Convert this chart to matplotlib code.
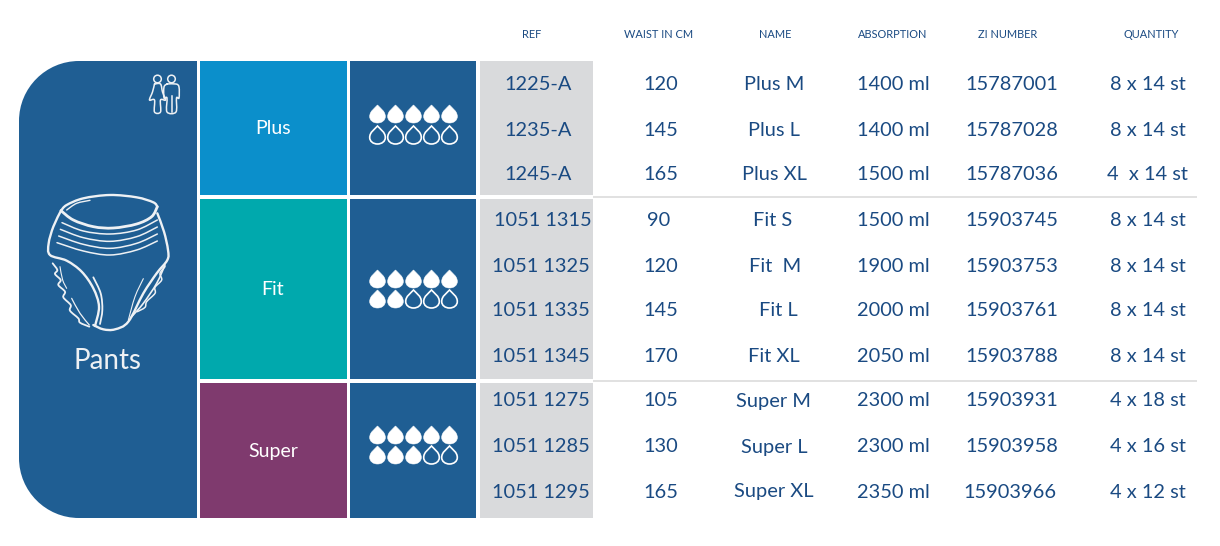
import numpy as np
import matplotlib
matplotlib.use("Agg")
import matplotlib.pyplot as plt
from matplotlib.path import Path
from matplotlib.patches import PathPatch, Rectangle, Circle

# ---- data ----
headers = ["REF", "WAIST IN CM", "NAME", "ABSORPTION", "ZI NUMBER", "QUANTITY"]
refs = ["1225-A", "1235-A", "1245-A", "1051 1315", "1051 1325", "1051 1335", "1051 1345",
        "1051 1275", "1051 1285", "1051 1295"]
waists = ["120", "145", "165", "90", "120", "145", "170", "105", "130", "165"]
names = ["Plus M", "Plus L", "Plus XL", "Fit S", "Fit  M", "Fit L", "Fit XL",
         "Super M", "Super L", "Super XL"]
absorption = ["1400 ml", "1400 ml", "1500 ml", "1500 ml", "1900 ml", "2000 ml", "2050 ml",
              "2300 ml", "2300 ml", "2350 ml"]
zi_numbers = ["15787001", "15787028", "15787036", "15903745", "15903753", "15903761",
              "15903788", "15903931", "15903958", "15903966"]
quantity = ["8 x 14 st", "8 x 14 st", "4  x 14 st", "8 x 14 st", "8 x 14 st", "8 x 14 st",
            "8 x 14 st", "4 x 18 st", "4 x 16 st", "4 x 12 st"]
groups = ["Plus", "Fit", "Super"]
filled_drops = [5, 7, 8]
product = "Pants"

# ---- layout ----
FONT = "Lato"
INK = "#1a4a82"
BLUE = "#1f5e93"
GREY = "#d9dadc"
group_colors = ["#0b8fcb", "#00a9ad", "#7f3a6e"]
group_spans = [(61, 195), (199, 379), (383, 518)]
drop_rows = [(105, 126), (270, 290), (426, 446)]
row_y = [85, 130, 175, 220, 266, 311, 356, 401, 447, 492]
header_x = [532, 659, 775, 893, 1008, 1151]
col_x = [
    [538, 538, 538, 543, 541, 541, 541, 541, 541, 541],
    [661, 661, 661, 659, 661, 661, 661, 661, 661, 661],
    [774, 774, 774, 773, 775, 778, 774, 774, 774, 774],
    [893, 893, 893, 893, 893, 893, 893, 893, 893, 893],
    [1012, 1012, 1012, 1012, 1012, 1012, 1012, 1012, 1012, 1010],
    [1148, 1148, 1147, 1148, 1148, 1148, 1148, 1148, 1148, 1148],
]

fig = plt.figure(figsize=(12.2, 5.46), dpi=100, facecolor="white")
ax = fig.add_axes([0, 0, 1, 1])
ax.set_xlim(0, 1220)
ax.set_ylim(546, 0)
ax.axis("off")


def rect(x0, y0, x1, y1, color, z=1):
    ax.add_patch(Rectangle((x0, y0), x1 - x0, y1 - y0, facecolor=color, edgecolor="none", zorder=z))


def smooth(points):
    """Catmull-Rom through the given pixel points, as a bezier path."""
    p = np.array(points, float)
    q = np.vstack([p[0], p, p[-1]])
    verts = [tuple(p[0])]
    codes = [Path.MOVETO]
    for i in range(1, len(q) - 2):
        c1 = q[i] + (q[i + 1] - q[i - 1]) / 6
        c2 = q[i + 1] - (q[i + 2] - q[i]) / 6
        verts += [tuple(c1), tuple(c2), tuple(q[i + 1])]
        codes += [Path.CURVE4] * 3
    return Path(verts, codes)


def stroke(points, lw=1.3, color="#eef1f4", zoomed=True):
    pts = [(x / 3, y / 3 + 50) for x, y in points] if zoomed else points
    ax.add_patch(PathPatch(smooth(pts), facecolor="none", edgecolor=color, lw=lw,
                           capstyle="round", joinstyle="round", zorder=4))


def drop(cx, top, filled):
    w, h = 7.8, 18
    V = [(cx, top),
         (cx + 3, top + 3.5), (cx + w, top + 6), (cx + w, top + 11.5),
         (cx + w, top + 15.5), (cx + 4.2, top + h), (cx, top + h),
         (cx - 4.2, top + h), (cx - w, top + 15.5), (cx - w, top + 11.5),
         (cx - w, top + 6), (cx - 3, top + 3.5), (cx, top),
         (cx, top)]
    C = [Path.MOVETO] + [Path.CURVE4] * 12 + [Path.CLOSEPOLY]
    ax.add_patch(PathPatch(Path(V, C), facecolor="white" if filled else "none",
                           edgecolor="white", lw=1.2 if not filled else 0.4, zorder=4))


# left panel
r = 60
x0, x1, y0, y1 = 19, 197, 61, 518
k = 0.5523 * r
V = [(x1, y0), (x1, y1), (x0 + r, y1), (x0 + r - k, y1), (x0, y1 - r + k), (x0, y1 - r),
     (x0, y0 + r), (x0, y0 + r - k), (x0 + r - k, y0), (x0 + r, y0), (x1, y0)]
C = [Path.MOVETO, Path.LINETO, Path.LINETO, Path.CURVE4, Path.CURVE4, Path.CURVE4,
     Path.LINETO, Path.CURVE4, Path.CURVE4, Path.CURVE4, Path.CLOSEPOLY]
ax.add_patch(PathPatch(Path(V, C), facecolor=BLUE, edgecolor="none", zorder=1))
ax.text(108, 361, product, color="#eef1f4", fontsize=20, family=FONT, ha="center", va="center", zorder=5)

# group blocks
for name, color, (a, b), (d1, d2), n in zip(groups, group_colors, group_spans, drop_rows, filled_drops):
    rect(200, a, 347, b, color)
    rect(350, a, 476, b, BLUE)
    rect(480, a, 593, b, GREY)
    ax.text(273, (a + b) / 2 + 0.5, name, color="white", fontsize=14, family=FONT,
            ha="center", va="center", zorder=5)
    for i in range(5):
        cx = 377.5 + 18 * i
        drop(cx, d1, True)
        drop(cx, d2, i + 5 < n)

# rules
for y in (197, 381):
    ax.plot([593, 1197], [y, y], color="#dcdcdc", lw=1.2, zorder=1, solid_capstyle="butt")

# header
for h, x in zip(headers, header_x):
    ax.text(x, 34.5, h, color=INK, fontsize=7.9, family=FONT, ha="center", va="center", zorder=5)

# table body
columns = [refs, waists, names, absorption, zi_numbers, quantity]
for col, xs in zip(columns, col_x):
    for s, x, y in zip(col, xs, row_y):
        ax.text(x, y, s, color=INK, fontsize=14.4, family=FONT, ha="center", va="center", zorder=5)

# pants icon (zoom-crop coordinates)
stroke([(183, 482), (200, 465), (250, 445), (330, 435), (410, 442), (460, 457), (472, 470)], 1.7)
stroke([(200, 480), (230, 460), (270, 451)], 1.0)
stroke([(183, 482), (220, 510), (280, 530), (340, 534), (410, 522), (455, 500), (472, 470)], 2.0)
stroke([(183, 482), (160, 530), (146, 580), (150, 615), (200, 632), (245, 665), (280, 715),
        (297, 770), (285, 828)], 1.7)
stroke([(472, 490), (492, 545), (504, 600), (502, 630), (470, 670), (430, 730), (385, 815),
        (345, 838), (310, 838), (280, 825)], 1.7)
for off, bow in [(0, 0), (20, 2), (40, 3), (60, 3)]:
    stroke([(186 - off * 0.25, 518 + off), (250, 543 + off), (330, 552 + off + bow), (410, 540 + off),
            (472, 510 + off * 1.05)], 1.1)
stroke([(158, 640), (172, 660), (165, 672), (182, 690), (175, 705), (195, 725), (190, 742),
        (212, 765), (210, 782), (235, 805), (240, 818), (268, 830)], 1.3)
stroke([(180, 650), (188, 690), (200, 715)], 0.8)
stroke([(215, 745), (240, 790), (268, 825)], 0.9)
stroke([(280, 682), (302, 730), (307, 780), (300, 822)], 1.3)
stroke([(495, 645), (470, 700), (430, 760), (395, 800)], 1.2)
stroke([(430, 686), (405, 740), (385, 810)], 0.8)
stroke([(495, 650), (480, 670), (485, 690), (465, 712), (465, 730), (440, 755), (435, 772), (412, 785)], 1.1)

# people icon
LW = 1.1
cx = 171.5
ax.add_patch(Circle((cx, 79), 3.8, fill=False, ec="#eef1f4", lw=LW, zorder=4))
stroke([(cx - 4.5, 84), (cx + 4.5, 84), (cx + 7.5, 87), (cx + 7.5, 98), (cx + 5, 98), (cx + 4.5, 112),
        (cx - 4.5, 112), (cx - 4.5, 98), (cx - 7.5, 98), (cx - 7.5, 87), (cx - 4.5, 84)], LW, zoomed=False)
ax.plot([cx, cx], [96, 112], color="#eef1f4", lw=LW, zorder=4)
cx = 157.5
ax.add_patch(Circle((cx, 79), 3.8, fill=False, ec="#eef1f4", lw=LW, zorder=4))
stroke([(cx - 3, 84), (cx + 3, 84), (cx + 5, 92), (cx + 8, 100), (cx + 3, 100), (cx + 3, 112), (cx - 3, 112),
        (cx - 3, 100), (cx - 8, 100), (cx - 5, 92), (cx - 3, 84)], LW, zoomed=False)

fig.savefig("out.png", dpi=100, facecolor="white")
